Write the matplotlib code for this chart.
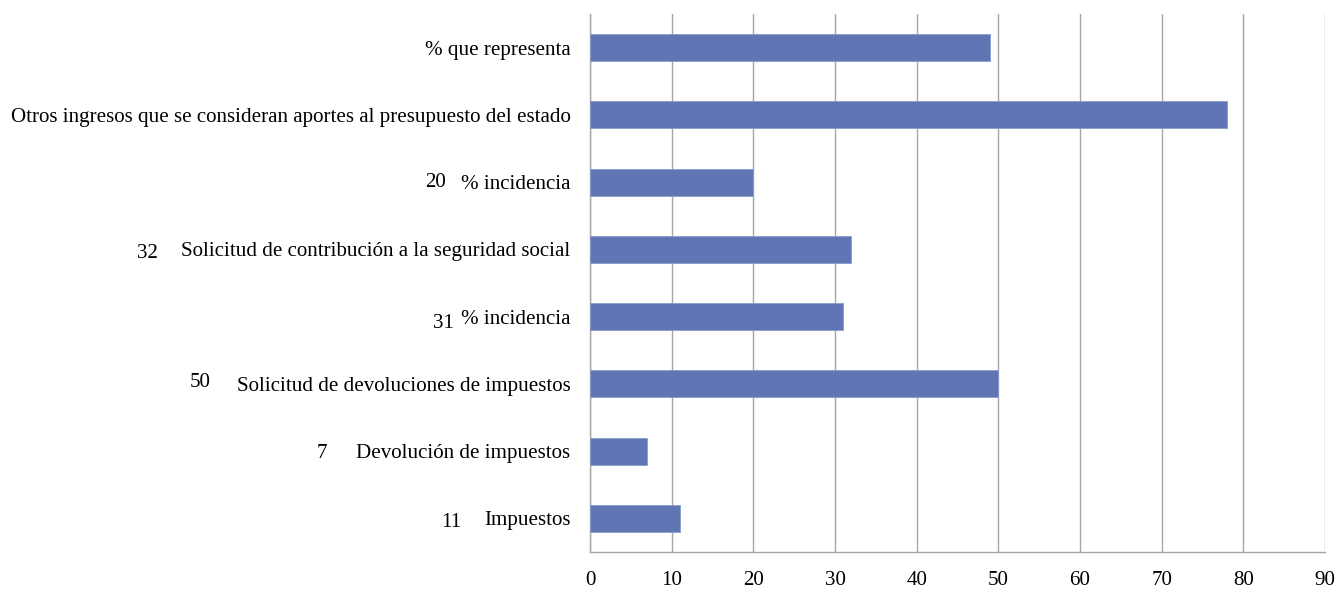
import matplotlib.pyplot as plt
import matplotlib.transforms as mtransforms

# categories, bottom to top
categorias = [
    "Impuestos",
    "Devolución de impuestos",
    "Solicitud de devoluciones de impuestos",
    "% incidencia",
    "Solicitud de contribución a la seguridad social",
    "% incidencia",
    "Otros ingresos que se consideran aportes al presupuesto del estado",
    "% que representa",
]
valores = [11, 7, 50, 31, 32, 20, 78, 49]

# loose numbers written next to some labels
numeros_sueltos = ["11", "7", "50", "31", "32", "20"]
fila_numeros = [0, 1, 2, 3, 4, 5]
x_numeros = [451, 322, 200, 444, 147, 435]       # pixel x of the number
dy_numeros = [2, 0, -4, 4, 2, -2]               # pixel shift, downward

plt.rcParams['font.family'] = ['Liberation Serif', 'DejaVu Serif']
fs = 15.1

fig = plt.figure(figsize=(13.39, 5.92), dpi=100)
ax = fig.add_axes([590 / 1339, 1 - 552 / 592, 735 / 1339, 538 / 592])

pos = range(len(categorias))
ax.barh(pos, valores, height=0.4, color='#6076b4', edgecolor='#8a9bcc',
        linewidth=0.6, zorder=3)

ax.set_xlim(0, 90)
ax.set_ylim(-0.5, len(categorias) - 0.5)
ax.set_xticks(range(0, 91, 10))
ax.set_yticks(list(pos))
ax.set_yticklabels(categorias, fontsize=fs)
ax.tick_params(axis='x', labelsize=fs, length=0, pad=14)
ax.tick_params(axis='y', length=0, pad=14)

ax.grid(axis='x', color='#a6a6a6', linewidth=1, zorder=0)
for s in ['top', 'right']:
    ax.spines[s].set_visible(False)
for s in ['left', 'bottom']:
    ax.spines[s].set_color('#a6a6a6')
    ax.spines[s].set_linewidth(1)

for txt, fila, xp, dy in zip(numeros_sueltos, fila_numeros, x_numeros, dy_numeros):
    tr = mtransforms.blended_transform_factory(fig.transFigure, ax.transData)
    tr = tr + mtransforms.ScaledTranslation(0, -dy / 100, fig.dpi_scale_trans)
    ax.text(xp / 1339, fila, txt, transform=tr, ha='center', va='center_baseline',
            fontsize=fs, clip_on=False)

fig.savefig('out.png', dpi=100)
